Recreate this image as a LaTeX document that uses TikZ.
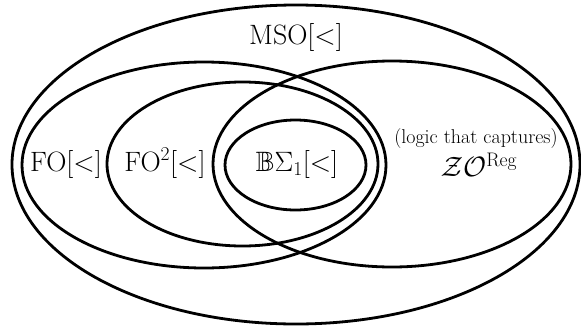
\RequirePackage{fix-cm}
\documentclass[tikz,border=0pt]{standalone}
\usepackage{amssymb}
\begin{document}
\begin{tikzpicture}[x=1pt,y=-1pt,
  setline/.style={line width=2.8pt, black},
  lab/.style={font=\fontsize{28}{34}\selectfont, inner sep=0pt},
  smalllab/.style={font=\fontsize{20}{24}\selectfont, inner sep=0pt}]
\useasboundingbox (0,0) rectangle (581,327);
% ellipses
\draw[setline] (296,164.5) ellipse [x radius=284, y radius=159.5];
\draw[setline] (204,165) ellipse [x radius=182, y radius=103];
\draw[setline] (242.5,164) ellipse [x radius=135.5, y radius=82];
\draw[setline] (392,164) ellipse [x radius=179, y radius=103];
\draw[setline] (295.5,165) ellipse [x radius=70.5, y radius=45];
% labels
\node[lab] (mso) at (296,37) {$\mathrm{MSO}[<]$};
\node[lab] (fo) at (66,164) {$\mathrm{FO}[<]$};
\node[lab] (fotwo) at (165,163) {$\mathrm{FO}^2[<]$};
\node[lab] (bsig) at (297,164) {$\mathbb{B}\Sigma_1[<]$};
\node[smalllab] (cap) at (476,139) {(logic that captures)};
\node[lab] (zo) at (479,165) {$\mathcal{Z}\mathcal{O}^{\mathrm{Reg}}$};
\end{tikzpicture}
\end{document}
